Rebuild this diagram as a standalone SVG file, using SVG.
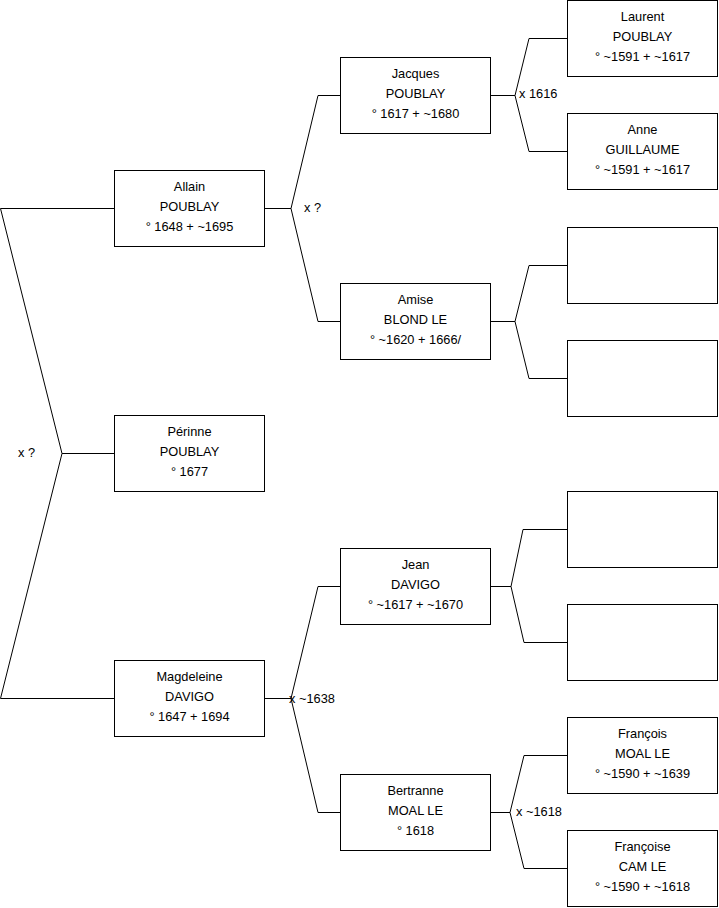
<svg xmlns="http://www.w3.org/2000/svg" width="719" height="908" viewBox="0 0 719 908">
<style>
.box{fill:#fff;stroke:#000;stroke-width:1}
.c{fill:none;stroke:#000;stroke-width:1}
text{font-family:"Liberation Sans",Arial,sans-serif;font-size:12.8px;fill:#000}
.n text{text-anchor:middle}
</style>
<rect width="719" height="908" fill="#fff"/>
<g id="connectors">
<path class="c" d="M114 208.5 H0.5 L62 453.5 L0.5 698.5 H114 M62 453.5 H114"/>
<path class="c" d="M265 208.5 H291 L318 95.5 H340 M291 208.5 L318 321.5 H340"/>
<path class="c" d="M265 698.5 H291 L318 586.5 H340 M291 698.5 L318 812.5 H340"/>
<path class="c" d="M491 95.5 H515 L529 38.5 H567 M515 95.5 L529 151.5 H567"/>
<path class="c" d="M491 321.5 H515 L529 265.5 H567 M515 321.5 L529 378.5 H567"/>
<path class="c" d="M491 586.5 H511 L523 529.5 H567 M511 586.5 L524 642.5 H567"/>
<path class="c" d="M491 812.5 H510 L524 755.5 H567 M510 812.5 L524 868.5 H567"/>
<text x="18" y="457">x ?</text>
<text x="304" y="212">x ?</text>
<text x="289" y="703">x ~1638</text>
<text x="519" y="98">x 1616</text>
<text x="516" y="816">x ~1618</text>
</g>
<g id="allain" class="n"><rect class="box" x="114.5" y="170.5" width="150" height="76"/><text x="189.5" y="191">Allain</text><text x="189.5" y="211">POUBLAY</text><text x="189.5" y="231">° 1648 + ~1695</text></g>
<g id="perinne" class="n"><rect class="box" x="114.5" y="415.5" width="150" height="76"/><text x="189.5" y="436">Périnne</text><text x="189.5" y="456">POUBLAY</text><text x="189.5" y="476">° 1677</text></g>
<g id="magdeleine" class="n"><rect class="box" x="114.5" y="660.5" width="150" height="76"/><text x="189.5" y="681">Magdeleine</text><text x="189.5" y="701">DAVIGO</text><text x="189.5" y="721">° 1647 + 1694</text></g>
<g id="jacques" class="n"><rect class="box" x="340.5" y="57.5" width="150" height="76"/><text x="415.5" y="78">Jacques</text><text x="415.5" y="98">POUBLAY</text><text x="415.5" y="118">° 1617 + ~1680</text></g>
<g id="amise" class="n"><rect class="box" x="340.5" y="283.5" width="150" height="76"/><text x="415.5" y="304">Amise</text><text x="415.5" y="324">BLOND LE</text><text x="415.5" y="344">° ~1620 + 1666/</text></g>
<g id="jean" class="n"><rect class="box" x="340.5" y="548.5" width="150" height="76"/><text x="415.5" y="569">Jean</text><text x="415.5" y="589">DAVIGO</text><text x="415.5" y="609">° ~1617 + ~1670</text></g>
<g id="bertranne" class="n"><rect class="box" x="340.5" y="774.5" width="150" height="76"/><text x="415.5" y="795">Bertranne</text><text x="415.5" y="815">MOAL LE</text><text x="415.5" y="835">° 1618</text></g>
<g id="laurent" class="n"><rect class="box" x="567.5" y="0.5" width="150" height="76"/><text x="642.5" y="21">Laurent</text><text x="642.5" y="41">POUBLAY</text><text x="642.5" y="61">° ~1591 + ~1617</text></g>
<g id="anne" class="n"><rect class="box" x="567.5" y="113.5" width="150" height="76"/><text x="642.5" y="134">Anne</text><text x="642.5" y="154">GUILLAUME</text><text x="642.5" y="174">° ~1591 + ~1617</text></g>
<g id="empty1" class="n"><rect class="box" x="567.5" y="227.5" width="150" height="76"/></g>
<g id="empty2" class="n"><rect class="box" x="567.5" y="340.5" width="150" height="76"/></g>
<g id="empty3" class="n"><rect class="box" x="567.5" y="491.5" width="150" height="76"/></g>
<g id="empty4" class="n"><rect class="box" x="567.5" y="604.5" width="150" height="76"/></g>
<g id="francois" class="n"><rect class="box" x="567.5" y="717.5" width="150" height="76"/><text x="642.5" y="738">François</text><text x="642.5" y="758">MOAL LE</text><text x="642.5" y="778">° ~1590 + ~1639</text></g>
<g id="francoise" class="n"><rect class="box" x="567.5" y="830.5" width="150" height="76"/><text x="642.5" y="851">Françoise</text><text x="642.5" y="871">CAM LE</text><text x="642.5" y="891">° ~1590 + ~1618</text></g>
</svg>
